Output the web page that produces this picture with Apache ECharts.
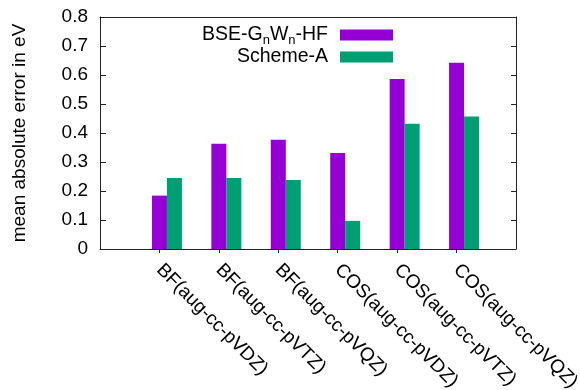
<!DOCTYPE html>
<html>
<head>
<meta charset="utf-8">
<script src="https://cdn.jsdelivr.net/npm/echarts@6/dist/echarts.min.js"></script>
<style>html,body{margin:0;padding:0;background:#fff}#c{width:580px;height:390px}</style>
</head>
<body>
<div id="c"></div>
<script>
var categories = ['BF(aug-cc-pVDZ)', 'BF(aug-cc-pVTZ)', 'BF(aug-cc-pVQZ)', 'COS(aug-cc-pVDZ)', 'COS(aug-cc-pVTZ)', 'COS(aug-cc-pVQZ)'];
var bseGnWnHF = [0.184, 0.363, 0.377, 0.331, 0.586, 0.642];
var schemeA = [0.245, 0.245, 0.238, 0.097, 0.432, 0.457];
var yTicks = [0, 0.1, 0.2, 0.3, 0.4, 0.5, 0.6, 0.7, 0.8];

var FONT = 'Liberation Sans';
var chart = echarts.init(document.getElementById('c'));
function pairs(arr) { return arr.map(function (v, i) { return [i, v]; }); }
var tickIdx = categories.map(function (c, i) { return i; });

chart.setOption({
  animation: false,
  textStyle: { fontFamily: FONT, color: '#000' },
  grid: { left: 100, right: 64, top: 17, bottom: 141, containLabel: false, outerBoundsMode: 'none' },
  legend: {
    selectedMode: false,
    orient: 'vertical',
    align: 'right',
    right: 187,
    top: 23,
    padding: 0,
    itemGap: 0,
    itemWidth: 53,
    itemHeight: 11,
    icon: 'rect',
    textStyle: {
      fontFamily: FONT, fontSize: 19.5, color: '#000', padding: [0, 7, 0, 0], lineHeight: 19,
      rich: {
        sub: { fontFamily: FONT, fontSize: 13, color: '#000', padding: [11, 0, 0, 0], lineHeight: 19 }
      }
    },
    formatter: function (name) {
      if (name === 'BSE-GnWn-HF') return 'BSE-G{sub|n}W{sub|n}-HF';
      return name;
    },
    data: ['BSE-GnWn-HF', 'Scheme-A']
  },
  xAxis: [{
    type: 'value', min: -1, max: 6, interval: 1, position: 'bottom',
    splitLine: { show: false },
    axisLine: { show: true, onZero: false, lineStyle: { color: '#222', width: 1 } },
    axisTick: { show: true, inside: false, length: 4, customValues: tickIdx, lineStyle: { color: '#222' } },
    axisLabel: {
      customValues: tickIdx, rotate: -45, margin: 18, fontSize: 19, fontFamily: FONT, color: '#000',
      formatter: function (v) { return categories[Math.round(v)] || ''; }
    }
  }, {
    type: 'value', min: -1, max: 6, interval: 1, position: 'top',
    splitLine: { show: false },
    axisLine: { show: true, onZero: false, lineStyle: { color: '#222', width: 1 } },
    axisTick: { show: false }, axisLabel: { show: false }
  }],
  yAxis: [{
    type: 'value', min: 0, max: 0.8, interval: 0.1, position: 'left',
    name: 'mean absolute error in eV', nameLocation: 'middle', nameGap: 71,
    nameTextStyle: { fontSize: 19, fontFamily: FONT, color: '#000' },
    splitLine: { show: false },
    axisLine: { show: true, onZero: false, lineStyle: { color: '#222', width: 1 } },
    axisTick: { show: true, inside: true, length: 6, lineStyle: { color: '#222' } },
    axisLabel: { margin: 12, fontSize: 19, fontFamily: FONT, color: '#000',
      formatter: function (v) { return String(Math.round(v * 10) / 10); } }
  }, {
    type: 'value', min: 0, max: 0.8, interval: 0.1, position: 'right',
    splitLine: { show: false },
    axisLine: { show: true, onZero: false, lineStyle: { color: '#222', width: 1 } },
    axisTick: { show: true, inside: true, length: 5, lineStyle: { color: '#222' } },
    axisLabel: { show: false }
  }],
  series: [{
    // empty slot so that the first series is centred on the tick (gnuplot clustered layout)
    name: '_slot', type: 'bar', xAxisIndex: 0, yAxisIndex: 0,
    barWidth: 15, barGap: '0%', silent: true, data: []
  }, {
    name: 'BSE-GnWn-HF', type: 'bar', xAxisIndex: 0, yAxisIndex: 0,
    barWidth: 15, barGap: '0%',
    itemStyle: { color: '#9400D3' },
    data: pairs(bseGnWnHF)
  }, {
    name: 'Scheme-A', type: 'bar', xAxisIndex: 0, yAxisIndex: 0,
    barWidth: 15, barGap: '0%',
    itemStyle: { color: '#009E73' },
    data: pairs(schemeA)
  }]
});
</script>
</body>
</html>
